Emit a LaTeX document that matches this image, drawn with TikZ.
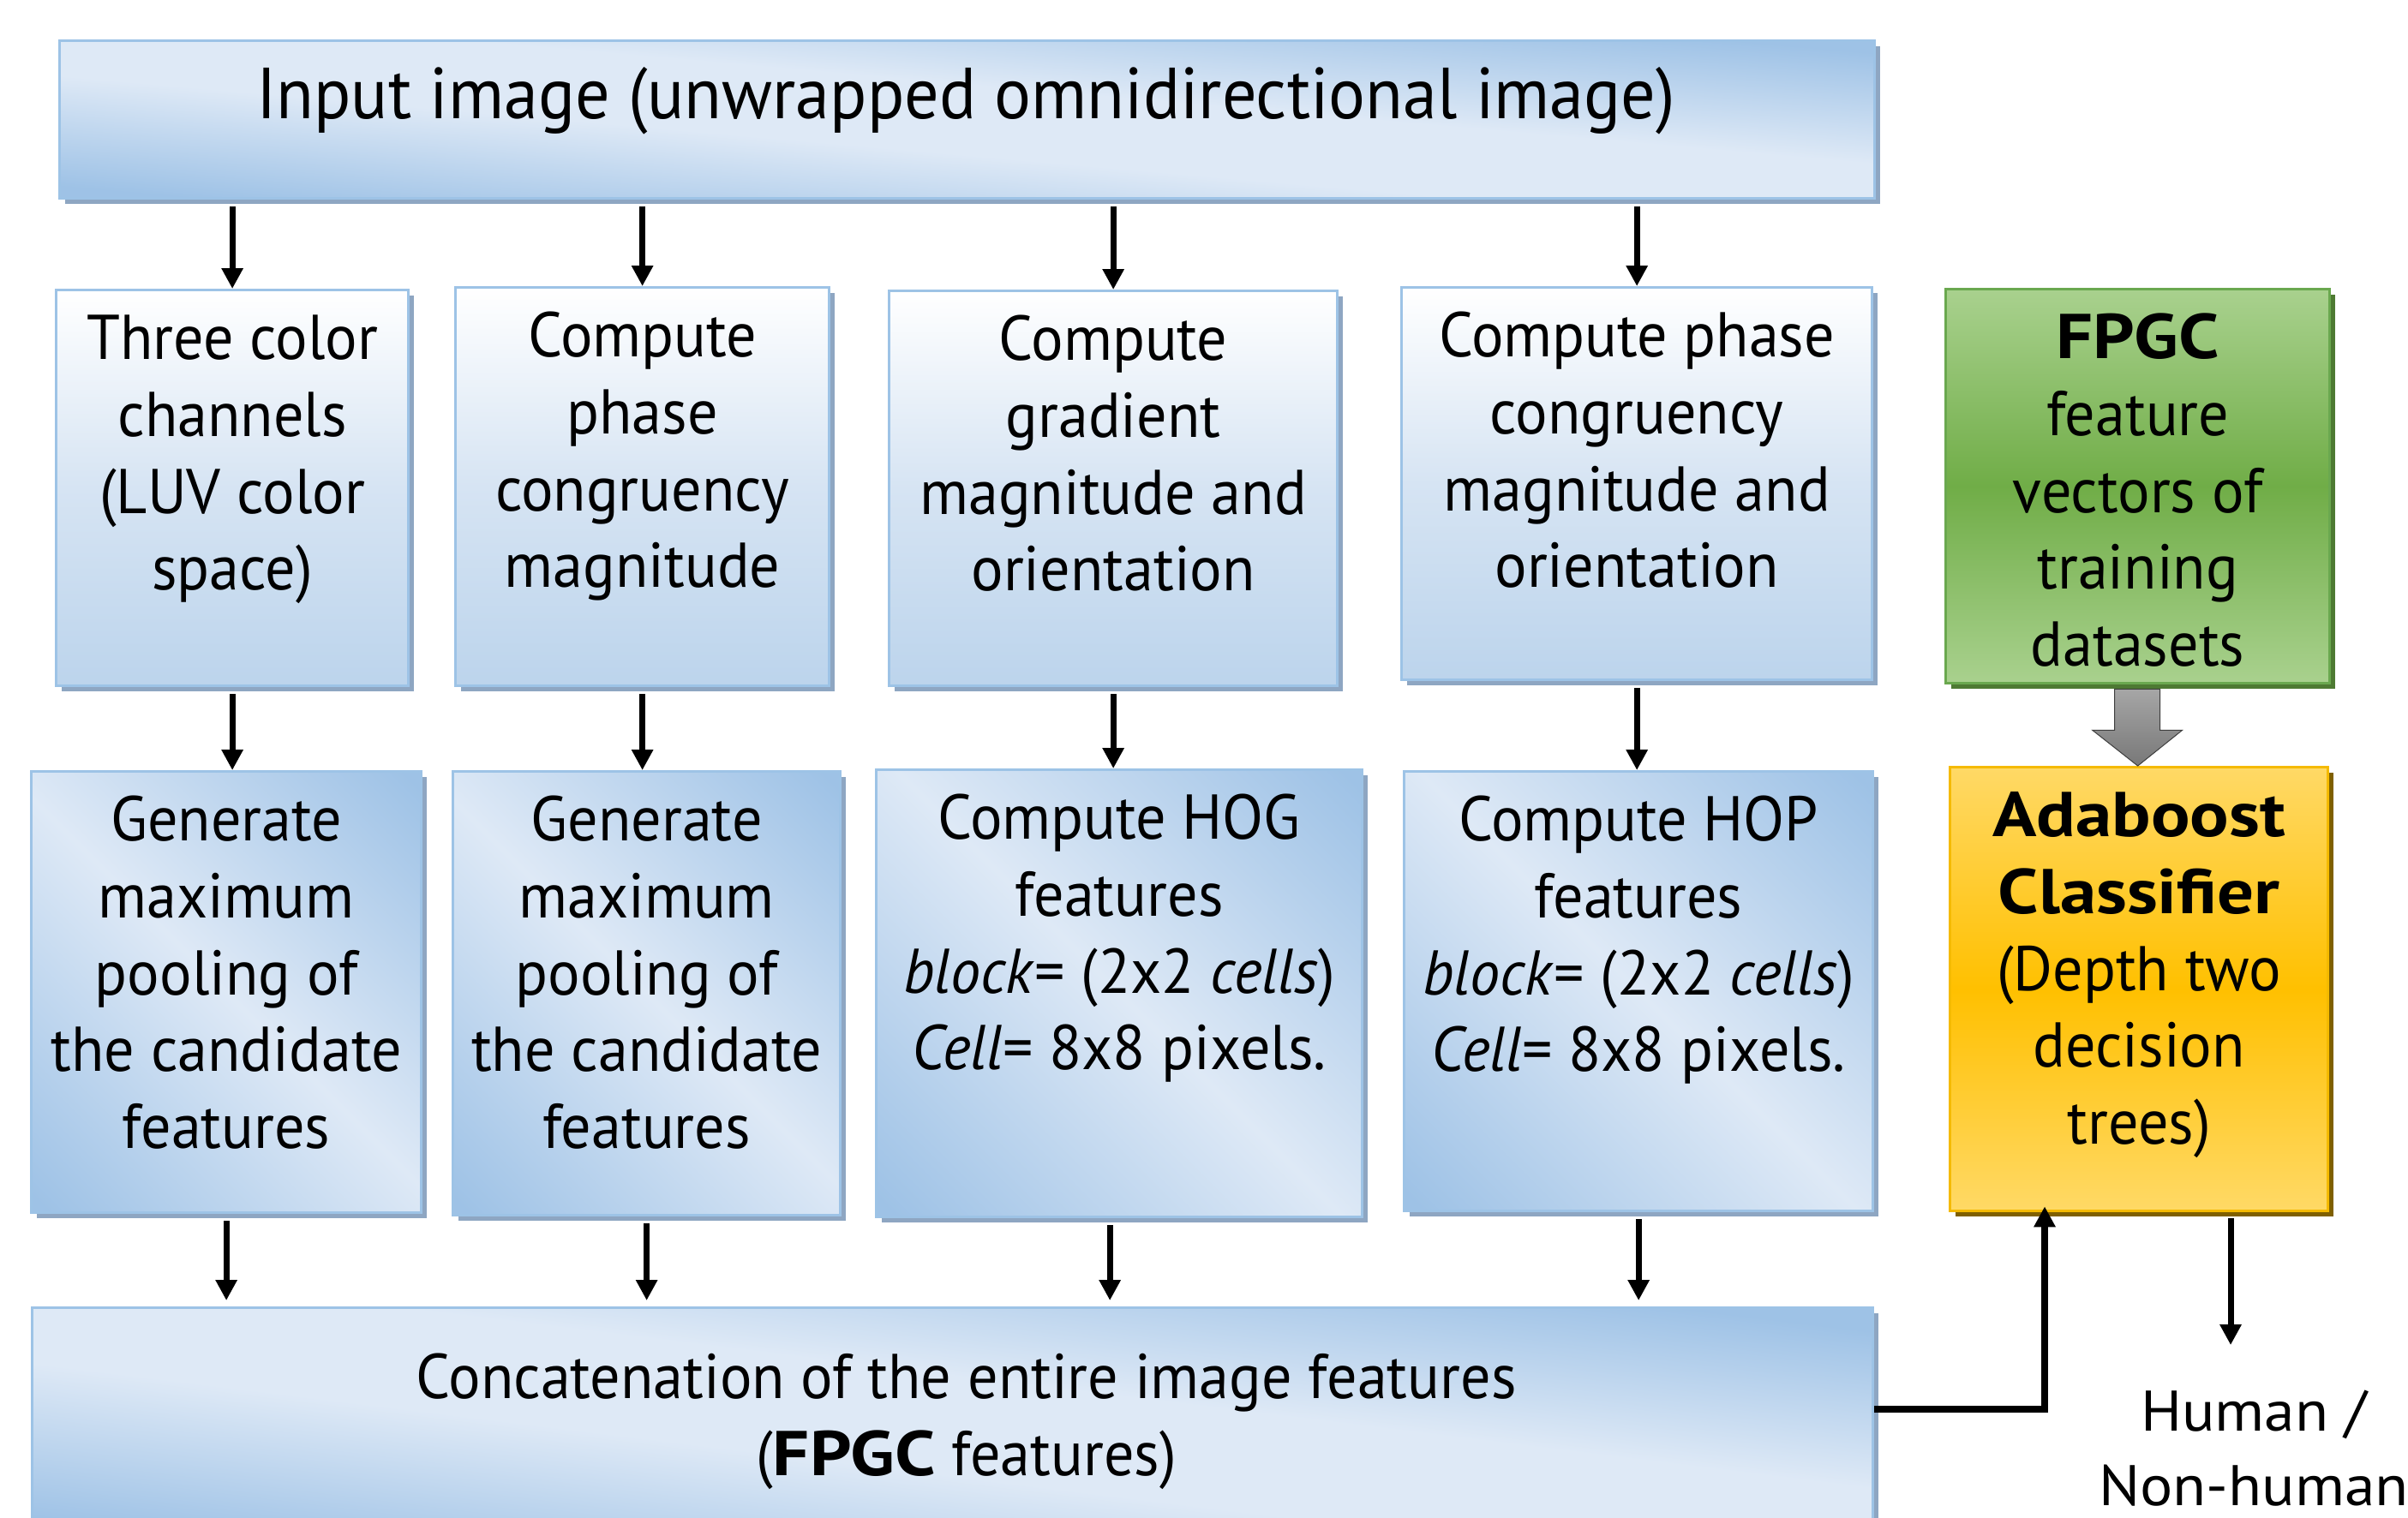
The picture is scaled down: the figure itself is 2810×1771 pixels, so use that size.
\documentclass[tikz,border=0pt]{standalone}
\usepackage{fontspec}
\usepackage{graphicx}
\setmainfont{PT Sans}[FakeStretch=0.95]
\newfontfamily\heavyfont{PT Sans}[FakeStretch=1.15]
\newfontfamily\labelfont{PT Sans}[FakeStretch=1.07]
\usetikzlibrary{arrows.meta,shadows,calc}

% palette
\definecolor{blt}{HTML}{DEE9F6}
\definecolor{bdk}{HTML}{9EC2E6}
\definecolor{bvbot}{HTML}{BCD4EC}
\definecolor{bvmid}{HTML}{D6E4F3}
\definecolor{bline}{HTML}{9DC3E6}
\definecolor{bshadow}{HTML}{8EA6C2}
\definecolor{glt}{HTML}{A9D18E}
\definecolor{gdk}{HTML}{70AD47}
\definecolor{gline}{HTML}{6AA84F}
\definecolor{gshadow}{HTML}{4E7A33}
\definecolor{olt}{HTML}{FFD966}
\definecolor{odk}{HTML}{FFC000}
\definecolor{oline}{HTML}{F5BA00}
\definecolor{oshadow}{HTML}{7F6000}
\definecolor{arrtop}{HTML}{A6A6A6}
\definecolor{arrbot}{HTML}{787878}
\definecolor{arrline}{HTML}{3F3F3F}

% fills
\pgfdeclareverticalshading{bluediag}{100bp}{color(0bp)=(bdk); color(16bp)=(bdk); color(50bp)=(blt); color(84bp)=(bdk); color(100bp)=(bdk)}
\pgfdeclareverticalshading{bluewide}{100bp}{color(0bp)=(bdk); color(25bp)=(bdk); color(44bp)=(blt); color(56bp)=(blt); color(75bp)=(bdk); color(100bp)=(bdk)}
\pgfdeclareverticalshading{bluevert}{100bp}{color(0bp)=(bvbot); color(25bp)=(bvbot); color(50bp)=(bvmid); color(75bp)=(white); color(100bp)=(white)}
\pgfdeclareverticalshading{greenband}{100bp}{color(0bp)=(glt); color(25bp)=(glt); color(50bp)=(gdk); color(75bp)=(glt); color(100bp)=(glt)}
\pgfdeclareverticalshading{orangeband}{100bp}{color(0bp)=(olt); color(25bp)=(olt); color(50bp)=(odk); color(75bp)=(olt); color(100bp)=(olt)}

\newcommand\topstrut{\rule{0pt}{0.65cm}}
\newcommand\hb[1]{{\heavyfont\bfseries #1}}

\tikzset{
  box/.style={rectangle, inner sep=0pt, line width=0.03cm, anchor=north west},
  blueshadow/.style={drop shadow={shadow xshift=0.06cm, shadow yshift=-0.06cm, fill=bshadow, opacity=1}},
  diagbox/.style={box, draw=bline, shade, shading=bluediag, shading angle=-45, blueshadow},
  widebox/.style={box, draw=bline, shade, shading=bluewide, blueshadow},
  vertbox/.style={box, draw=bline, shade, shading=bluevert, blueshadow},
  greenbox/.style={box, draw=gline, shade, shading=greenband,
    drop shadow={shadow xshift=0.06cm, shadow yshift=-0.06cm, fill=gshadow, opacity=1}},
  orangebox/.style={box, draw=oline, shade, shading=orangeband,
    drop shadow={shadow xshift=0.06cm, shadow yshift=-0.06cm, fill=oshadow, opacity=1}},
  txt/.style={font=\fontsize{21pt}{25.5pt}\selectfont, align=center, inner sep=0pt, anchor=north},
  arr/.style={line width=0.07cm, -{Triangle[length=0.24cm,width=0.24cm]}},
  blockarr/.style={draw=arrline, line width=0.01cm, top color=arrtop, bottom color=arrbot},
}

\begin{document}
\begin{tikzpicture}[x=0.01cm,y=-0.01cm]
\useasboundingbox (0,0) rectangle (2810,1771);
\clip (0,0) rectangle (2810,1771);

% input image
\node[widebox, shading angle=-5, minimum width=21.17cm, minimum height=1.84cm] (top) at (68,46) {};
\node[font=\fontsize{24pt}{28pt}\selectfont, inner sep=0pt, anchor=base] (toptxt) at (1127,138)
  {Input image (unwrapped omnidirectional image)};

% first processing row
\node[vertbox, minimum width=4.11cm, minimum height=4.62cm] (b1) at (64,337) {};
\node[vertbox, minimum width=4.36cm, minimum height=4.65cm] (b2) at (530,334) {};
\node[vertbox, minimum width=5.23cm, minimum height=4.61cm] (b3) at (1036,338) {};
\node[vertbox, minimum width=5.49cm, minimum height=4.58cm] (b4) at (1634,334) {};
\node[greenbox, minimum width=4.48cm, minimum height=4.60cm] (g) at (2269,336) {};

\node[txt] (b1t) at ([yshift=-0.17cm]b1.north) {\topstrut Three color\\channels\\(LUV color\\space)};
\node[txt] (b2t) at ([yshift=-0.17cm]b2.north) {\topstrut Compute\\phase\\congruency\\magnitude};
\node[txt] (b3t) at ([yshift=-0.17cm]b3.north) {\topstrut Compute\\gradient\\magnitude and\\orientation};
\node[txt] (b4t) at ([yshift=-0.17cm]b4.north) {\topstrut Compute phase\\congruency\\magnitude and\\orientation};
\node[txt] (gt) at ([yshift=-0.17cm]g.north) {\topstrut\hb{FPGC}\\feature\\vectors of\\training\\datasets};

% second processing row
\node[diagbox, minimum width=4.55cm, minimum height=5.15cm] (c1) at (35,899) {};
\node[diagbox, minimum width=4.52cm, minimum height=5.18cm] (c2) at (527,899) {};
\node[diagbox, minimum width=5.67cm, minimum height=5.22cm] (c3) at (1021,897) {};
\node[diagbox, minimum width=5.47cm, minimum height=5.13cm] (c4) at (1637,899) {};
\node[orangebox, minimum width=4.41cm, minimum height=5.18cm] (o) at (2274,894) {};

\node[txt] (c1t) at ([yshift=-0.17cm]c1.north) {\topstrut Generate\\maximum\\pooling of\\the candidate\\features};
\node[txt] (c2t) at ([yshift=-0.17cm]c2.north) {\topstrut Generate\\maximum\\pooling of\\the candidate\\features};
\node[txt] (c3t) at ([yshift=-0.17cm]c3.north) {\topstrut Compute HOG\\features\\\textit{block}= (2x2 \textit{cells})\\\textit{Cell}= 8x8 pixels.};
\node[txt] (c4t) at ([yshift=-0.17cm]c4.north) {\topstrut Compute HOP\\features\\\textit{block}= (2x2 \textit{cells})\\\textit{Cell}= 8x8 pixels.};
\node[txt] (ot) at ([yshift=-0.17cm]o.north) {\topstrut\hb{Adaboost}\\\hb{Classifier}\\(Depth two\\decision\\trees)};

% concatenation
\node[widebox, shading angle=-7, minimum width=21.47cm, minimum height=2.75cm] (bot) at (36,1525) {};
\node[txt] (bott) at ([xshift=0.16cm,yshift=-0.42cm]bot.north) {\topstrut Concatenation of the entire image features\\(\hb{FPGC} features)};

% output label
\node[txt, font=\labelfont\fontsize{19pt}{24.75pt}\selectfont] (res) at (2630,1605) {\topstrut Human /\\Non-human};

% connectors
\foreach \n in {b1,b2,b3,b4}
  \draw[arr, shorten <=0.08cm] (top.south -| \n.north) -- (\n.north);
\draw[arr, shorten <=0.08cm] (b1.south) -- (b1.south |- c1.north);
\draw[arr, shorten <=0.08cm] (b2.south) -- (b2.south |- c2.north);
\draw[arr, shorten <=0.08cm] (b3.south) -- (b3.south |- c3.north);
\draw[arr, shorten <=0.08cm] (b4.south) -- (b4.south |- c4.north);

\coordinate (c3o) at ($(c3.south)+(-11,0)$);
\draw[arr, shorten <=0.08cm, shorten >=0.07cm] (c1.south) -- (c1.south |- bot.north);
\draw[arr, shorten <=0.08cm, shorten >=0.07cm] (c2.south) -- (c2.south |- bot.north);
\draw[arr, shorten <=0.08cm, shorten >=0.07cm] (c3o) -- (c3o |- bot.north);
\draw[arr, shorten <=0.08cm, shorten >=0.07cm] (c4.south) -- (c4.south |- bot.north);

\coordinate (bend) at (2386,1645);
\draw[arr, line width=0.08cm, shorten >=-0.07cm] (bot.east |- bend) -- (bend) -- (bend |- o.south);

\coordinate (resin) at (2603,1570);
\draw[arr, shorten <=0.07cm] (o.south -| resin) -- (resin);

% training data feeds the classifier
\draw[blockarr] ($(g.south)+(-27,5)$) -- ($(g.south)+(26,5)$) -- ($(g.south)+(26,53)$)
  -- ($(g.south)+(52,53)$) -- (g.south |- o.north) -- ($(g.south)+(-53,53)$)
  -- ($(g.south)+(-27,53)$) -- cycle;
\end{tikzpicture}
\end{document}
